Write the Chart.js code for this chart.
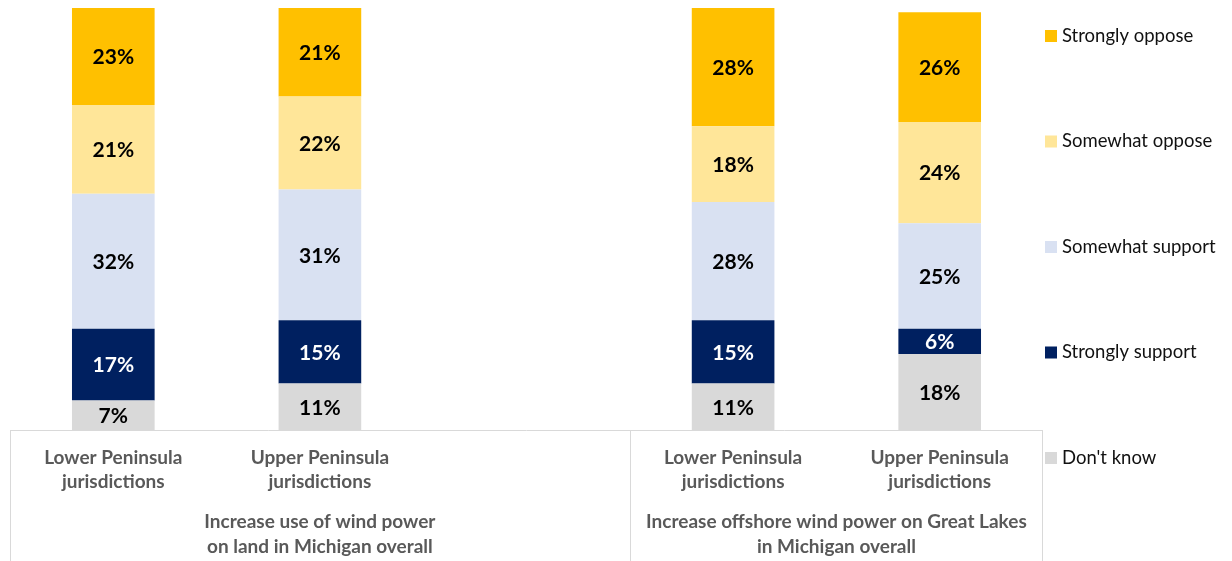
<!DOCTYPE html>
<html>
<head>
    <title>Wind power support</title>
    <script src="https://cdn.jsdelivr.net/npm/chart.js"></script>
    <style>
        html, body { margin: 0; padding: 0; background: #fff; }
        #wrap { width: 1232px; height: 561px; position: relative; }
    </style>
</head>
<body>
    <div id="wrap"><canvas id="windChart"></canvas></div>
    <script>
        // categories (third slot left empty as a gap between the two questions)
        const categories = [
            ['Lower Peninsula', 'jurisdictions'],
            ['Upper Peninsula', 'jurisdictions'],
            '',
            ['Lower Peninsula', 'jurisdictions'],
            ['Upper Peninsula', 'jurisdictions']
        ];
        const groups = [
            { label: ['Increase use of wind power', 'on land in Michigan overall'], from: 0, to: 2 },
            { label: ['Increase offshore wind power on Great Lakes', 'in Michigan overall'], from: 3, to: 4 }
        ];

        const dontKnow        = [7, 11, null, 11, 18];
        const stronglySupport = [17, 15, null, 15, 6];
        const somewhatSupport = [32, 31, null, 28, 25];
        const somewhatOppose  = [21, 22, null, 18, 24];
        const stronglyOppose  = [23, 21, null, 28, 26];

        const FONT = 'Lato, "Open Sans", sans-serif';

        // percentage labels in the middle of each segment
        const segmentLabels = {
            id: 'segmentLabels',
            afterDatasetsDraw(chart) {
                const ctx = chart.ctx;
                ctx.save();
                ctx.font = 'bold 21px ' + FONT;
                ctx.textAlign = 'center';
                ctx.textBaseline = 'middle';
                chart.data.datasets.forEach((ds, i) => {
                    const meta = chart.getDatasetMeta(i);
                    meta.data.forEach((bar, j) => {
                        const v = ds.data[j];
                        if (v == null) return;
                        ctx.fillStyle = ds.labelColor;
                        ctx.fillText(v + '%', bar.x, (bar.y + bar.base) / 2 + 1);
                    });
                });
                ctx.restore();
            }
        };

        // grouped category axis with box lines underneath the bars
        const groupAxis = {
            id: 'groupAxis',
            afterDraw(chart) {
                const ctx = chart.ctx;
                const x = chart.scales.x;
                const area = chart.chartArea;
                const half = (x.getPixelForValue(1) - x.getPixelForValue(0)) / 2;
                const bottom = chart.height;
                ctx.save();
                ctx.strokeStyle = '#d9d9d9';
                ctx.lineWidth = 1;
                ctx.beginPath();
                ctx.moveTo(area.left, area.bottom + 0.5);
                ctx.lineTo(area.right, area.bottom + 0.5);
                groups.forEach(g => {
                    const l = Math.round(x.getPixelForValue(g.from) - half) + 0.5;
                    ctx.moveTo(l, area.bottom);
                    ctx.lineTo(l, bottom);
                });
                const r = Math.round(area.right) - 0.5;
                ctx.moveTo(r, area.bottom);
                ctx.lineTo(r, bottom);
                ctx.stroke();

                ctx.fillStyle = '#595959';
                ctx.font = 'bold 19px ' + FONT;
                ctx.textAlign = 'center';
                ctx.textBaseline = 'middle';
                categories.forEach((c, i) => {
                    if (!c) return;
                    const cx = x.getPixelForValue(i);
                    c.forEach((line, k) => ctx.fillText(line, cx, 458 + k * 24));
                });
                groups.forEach(g => {
                    const cx = (x.getPixelForValue(g.from) + x.getPixelForValue(g.to)) / 2;
                    g.label.forEach((line, k) => ctx.fillText(line, cx, 522 + k * 25));
                });
                ctx.restore();
            }
        };

        // legend on the right, top item is the last stacked series
        const sideLegend = {
            id: 'sideLegend',
            afterDraw(chart) {
                const ctx = chart.ctx;
                const items = chart.data.datasets.slice().reverse();
                ctx.save();
                ctx.font = '18.5px ' + FONT;
                ctx.textBaseline = 'middle';
                ctx.textAlign = 'left';
                items.forEach((ds, i) => {
                    const y = 36 + i * 105.5;
                    ctx.fillStyle = ds.backgroundColor;
                    ctx.fillRect(1045, y - 6, 12, 12);
                    ctx.fillStyle = '#111';
                    ctx.fillText(ds.label, 1062, y);
                });
                ctx.restore();
            }
        };

        const ctx = document.getElementById('windChart').getContext('2d');
        new Chart(ctx, {
            type: 'bar',
            data: {
                labels: categories,
                datasets: [
                    { label: "Don't know", data: dontKnow, backgroundColor: '#d9d9d9', labelColor: '#000' },
                    { label: 'Strongly support', data: stronglySupport, backgroundColor: '#002060', labelColor: '#fff' },
                    { label: 'Somewhat support', data: somewhatSupport, backgroundColor: '#d9e1f2', labelColor: '#000' },
                    { label: 'Somewhat oppose', data: somewhatOppose, backgroundColor: '#ffe699', labelColor: '#000' },
                    { label: 'Strongly oppose', data: stronglyOppose, backgroundColor: '#ffc000', labelColor: '#000' }
                ]
            },
            options: {
                responsive: true,
                maintainAspectRatio: false,
                animation: false,
                layout: { padding: { left: 10, top: 8, right: 189, bottom: 131 } },
                datasets: { bar: { barPercentage: 0.4, categoryPercentage: 1.0 } },
                plugins: {
                    legend: { display: false },
                    tooltip: { enabled: false }
                },
                scales: {
                    x: { stacked: true, display: false },
                    y: { stacked: true, display: false, min: 0, max: 100 }
                }
            },
            plugins: [segmentLabels, groupAxis, sideLegend]
        });
    </script>
</body>
</html>
